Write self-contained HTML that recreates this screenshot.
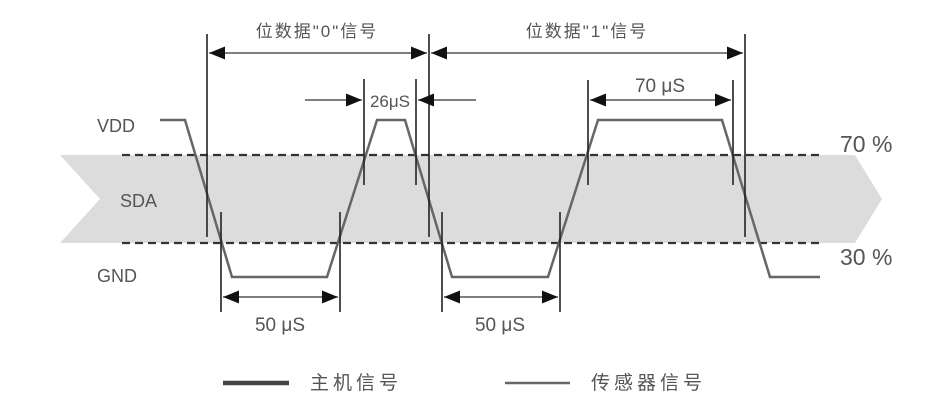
<!DOCTYPE html>
<html><head><meta charset="utf-8"><style>
html,body{margin:0;padding:0;background:#fff;width:951px;height:415px;overflow:hidden}
text{font-family:"Liberation Sans","Noto Sans CJK SC",sans-serif;fill:#555}
</style></head><body>
<svg width="951" height="415" viewBox="0 0 951 415" xmlns="http://www.w3.org/2000/svg">
<defs>
<marker id="a" viewBox="0 0 16 13" refX="16" refY="6.5" markerWidth="16" markerHeight="13" markerUnits="userSpaceOnUse" orient="auto-start-reverse" preserveAspectRatio="none"><path d="M0,0 L16,6.5 L0,13 z" fill="#111"/></marker>
</defs>
<polygon points="60,155 855,155 882,199 855,243 60,243 100,199" fill="#dcdcdc"/>
<g stroke="#333" stroke-width="2.2" stroke-dasharray="8,5">
<line x1="122" y1="155" x2="822" y2="155"/>
<line x1="122" y1="243" x2="822" y2="243"/>
</g>
<polyline points="160,120 185,120 232,277 327,277 377,120 405,120 452,277 548,277 598,120 722,120 770,277 820,277" fill="none" stroke="#666" stroke-width="2.5"/>
<g stroke="#222" stroke-width="1.6">
<line x1="207" y1="34" x2="207" y2="237"/>
<line x1="221" y1="212" x2="221" y2="312"/>
<line x1="340" y1="212" x2="340" y2="312"/>
<line x1="364" y1="79" x2="364" y2="185"/>
<line x1="416" y1="79" x2="416" y2="185"/>
<line x1="429" y1="34" x2="429" y2="237"/>
<line x1="442" y1="212" x2="442" y2="312"/>
<line x1="560" y1="212" x2="560" y2="312"/>
<line x1="588" y1="80" x2="588" y2="185"/>
<line x1="733" y1="80" x2="733" y2="185"/>
<line x1="745" y1="34" x2="745" y2="237"/>
</g>
<g stroke="#333" stroke-width="1.3" fill="none">
<line x1="209" y1="53" x2="427" y2="53" marker-start="url(#a)" marker-end="url(#a)"/>
<line x1="431" y1="53" x2="743" y2="53" marker-start="url(#a)" marker-end="url(#a)"/>
<line x1="305" y1="100" x2="362" y2="100" marker-end="url(#a)"/>
<line x1="476" y1="100" x2="418" y2="100" marker-end="url(#a)"/>
<line x1="590" y1="100" x2="731" y2="100" marker-start="url(#a)" marker-end="url(#a)"/>
<line x1="223" y1="297" x2="338" y2="297" marker-start="url(#a)" marker-end="url(#a)"/>
<line x1="444" y1="297" x2="558" y2="297" marker-start="url(#a)" marker-end="url(#a)"/>
</g>
<g font-size="17">
<text x="317" y="37" text-anchor="middle" letter-spacing="2">位数据"0"信号</text>
<text x="587" y="37" text-anchor="middle" letter-spacing="2">位数据"1"信号</text>
<text x="390" y="107" text-anchor="middle" font-size="17">26μS</text>
<text x="660" y="92" text-anchor="middle" font-size="19">70 μS</text>
<text x="280" y="331" text-anchor="middle" font-size="19">50 μS</text>
<text x="500" y="331" text-anchor="middle" font-size="19">50 μS</text>
<text x="97" y="132" font-size="18">VDD</text>
<text x="120" y="207" font-size="18">SDA</text>
<text x="97" y="282" font-size="18">GND</text>
<text x="840" y="152" font-size="23">70 %</text>
<text x="840" y="265" font-size="23">30 %</text>
<text x="310" y="389" font-size="19" letter-spacing="4">主机信号</text>
<text x="591" y="389" font-size="19" letter-spacing="4">传感器信号</text>
</g>
<line x1="223" y1="383" x2="289" y2="383" stroke="#444" stroke-width="4.5"/>
<line x1="505" y1="383" x2="570" y2="383" stroke="#666" stroke-width="2.5"/>
</svg>
</body></html>
